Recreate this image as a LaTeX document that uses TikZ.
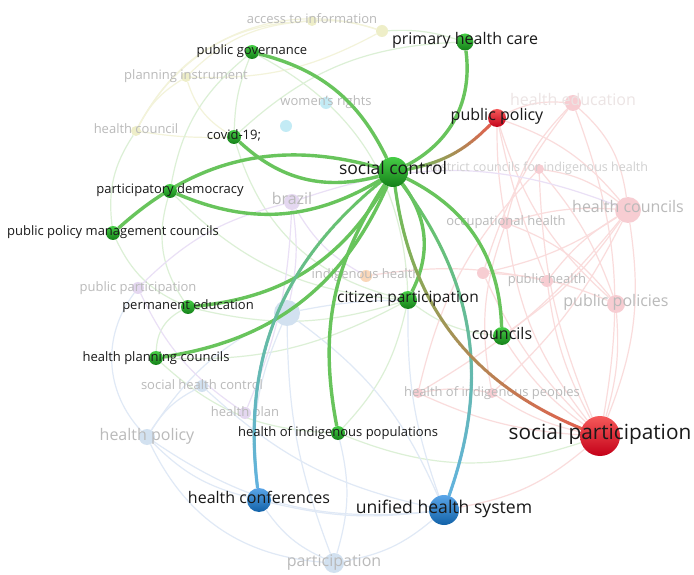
\documentclass[tikz,border=0pt]{standalone}
\usepackage{fontspec}
\setmainfont{Open Sans}
\usetikzlibrary{decorations.markings}
\definecolor{hgreen}{RGB}{104,196,92}
\definecolor{hred}{RGB}{226,96,78}
\definecolor{hblue}{RGB}{98,178,224}
\definecolor{gtop}{RGB}{70,205,70}
\definecolor{gbot}{RGB}{20,128,24}
\definecolor{rtop}{RGB}{245,90,90}
\definecolor{rbot}{RGB}{196,0,24}
\definecolor{btop}{RGB}{90,165,232}
\definecolor{bbot}{RGB}{18,98,168}
\definecolor{fyel}{RGB}{243,243,218}
\definecolor{fgrn}{RGB}{220,240,214}
\definecolor{fpink}{RGB}{250,220,220}
\definecolor{fblue}{RGB}{224,233,246}
\definecolor{fpur}{RGB}{234,224,246}
\definecolor{nyel}{RGB}{238,238,200}
\definecolor{npink}{RGB}{247,205,210}
\definecolor{nblue}{RGB}{210,225,240}
\definecolor{npur}{RGB}{228,215,240}
\definecolor{ncyan}{RGB}{195,235,245}
\definecolor{norg}{RGB}{250,215,185}
\definecolor{fgray}{RGB}{186,186,186}
\definecolor{lgray}{RGB}{208,208,208}
\definecolor{vlgray}{RGB}{236,228,228}
\definecolor{dtext}{RGB}{25,25,25}
\newcommand\fsz[1]{\fontsize{#1}{#1}\selectfont}
\pgfdeclarelayer{bg}
\pgfdeclarelayer{fadeedge}
\pgfdeclarelayer{fadenode}
\pgfdeclarelayer{hiedge}
\pgfsetlayers{bg,fadeedge,fadenode,hiedge,main}
\tikzset{
  x=1pt, y=1pt,
  fn/.style={circle, inner sep=0pt, draw=none},
  gn/.style={circle, inner sep=0pt, draw=none, top color=gtop, bottom color=gbot},
  rn/.style={circle, inner sep=0pt, draw=none, top color=rtop, bottom color=rbot},
  bn/.style={circle, inner sep=0pt, draw=none, top color=btop, bottom color=bbot},
  lbl/.style={inner sep=0pt, text height=0.8em, text depth=0.2em, anchor=center, text=dtext},
  flbl/.style={inner sep=0pt, text height=0.8em, text depth=0.2em, anchor=center, text=fgray},
  hedge/.style={draw=hgreen, line width=3.4pt},
  fe/.style={line width=1.2pt},
  grad/.style 2 args={postaction={decorate}, decoration={markings,
    mark=between positions 0 and 1 step 0.7pt with {
      \pgfmathsetmacro\gp{round(\pgfkeysvalueof{/pgf/decoration/mark info/distance from start}/\pgfdecoratedpathlength*100)}
      \fill[#2!\gp!#1] (0,0) circle (1.7pt);
    }}}
}
\begin{document}
\begin{tikzpicture}
\begin{pgfonlayer}{bg}
\fill[white] (0,0) rectangle (694,574);
\end{pgfonlayer}
\useasboundingbox (0,0) rectangle (694,574);

% ---------- faded nodes ----------
\begin{pgfonlayer}{fadenode}
\node[fn, fill=nyel, minimum size=10pt] (acc) at (312,553) {};
\node[fn, fill=nyel, minimum size=12pt] (yel2) at (382,543) {};
\node[fn, fill=nyel, minimum size=10pt] (plan) at (186,497) {};
\node[fn, fill=ncyan, minimum size=12pt] (wom) at (326,471) {};
\node[fn, fill=ncyan, minimum size=12pt] (cyan2) at (286,448) {};
\node[fn, fill=nyel, minimum size=10pt] (hcou1) at (136,443) {};
\node[fn, fill=npink, minimum size=16pt] (hedu) at (573,471) {};
\node[fn, fill=npink, minimum size=10pt] (dcih) at (539,405) {};
\node[fn, fill=npink, minimum size=26pt] (hcs) at (628,364) {};
\node[fn, fill=npink, minimum size=12pt] (occ) at (506,351) {};
\node[fn, fill=npink, minimum size=12pt] (pink2) at (483,301) {};
\node[fn, fill=npink, minimum size=12pt] (ph) at (547,293) {};
\node[fn, fill=npink, minimum size=18pt] (pps) at (616,270) {};
\node[fn, fill=npur, minimum size=16pt] (bra) at (292,372) {};
\node[fn, fill=norg, minimum size=12pt] (ih) at (366,298) {};
\node[fn, fill=nblue, minimum size=26pt] (lb) at (287,261) {};
\node[fn, fill=npur, minimum size=12pt] (ppart) at (138,286) {};
\node[fn, fill=nblue, minimum size=12pt] (shc) at (202,188) {};
\node[fn, fill=npur, minimum size=12pt] (hplan) at (245,161) {};
\node[fn, fill=nblue, minimum size=16pt] (hpol) at (147,137) {};
\node[fn, fill=npink, minimum size=10pt] (hoip1) at (418,181) {};
\node[fn, fill=npink, minimum size=10pt] (hoip) at (492,181) {};
\node[fn, fill=nblue, minimum size=20pt] (part) at (334,11) {};

\node[flbl, font=\fsz{13}] (acc-t) at (acc) {access to information};
\node[flbl, font=\fsz{13}] (plan-t) at (plan) {planning instrument};
\node[flbl, font=\fsz{13}] (wom-t) at (wom) {women’s rights};
\node[flbl, font=\fsz{13}] (hcou1-t) at (hcou1) {health council};
\node[flbl, font=\fsz{16}, text=vlgray] (hedu-t) at (hedu) {health education};
\node[flbl, font=\fsz{12.5}, text=lgray] (dcih-t) at (dcih) {district councils for indigenous health};
\node[flbl, font=\fsz{16}] (hcs-t) at (hcs) {health councils};
\node[flbl, font=\fsz{13}] (occ-t) at (occ) {occupational health};
\node[flbl, font=\fsz{13}] (ph-t) at (ph) {public health};
\node[flbl, font=\fsz{16}] (pps-t) at (pps) {public policies};
\node[flbl, font=\fsz{16}] (bra-t) at (bra) {brazil};
\node[flbl, font=\fsz{13}] (ih-t) at (ih) {indigenous health};
\node[flbl, font=\fsz{13}] (ppart-t) at (ppart) {public participation};
\node[flbl, font=\fsz{13}] (shc-t) at (shc) {social health control};
\node[flbl, font=\fsz{13}] (hplan-t) at (hplan) {health plan};
\node[flbl, font=\fsz{16}] (hpol-t) at (hpol) {health policy};
\node[flbl, font=\fsz{13}] (hoip-t) at (hoip) {health of indigenous peoples};
\node[flbl, font=\fsz{16}] (part-t) at (part) {participation};
\end{pgfonlayer}

% ---------- highlighted nodes ----------
\node[gn, minimum size=30pt] (sc) at (393,402) {};
\node[gn, minimum size=17pt] (phc) at (465,532) {};
\node[gn, minimum size=14pt] (pg) at (252,522) {};
\node[gn, minimum size=14pt] (cov) at (234,437) {};
\node[gn, minimum size=14pt] (pd) at (170,383) {};
\node[gn, minimum size=14pt] (ppmc) at (113,341) {};
\node[gn, minimum size=14pt] (pe) at (188,267) {};
\node[gn, minimum size=14pt] (hpc) at (156,216) {};
\node[gn, minimum size=14pt] (hip) at (338,141) {};
\node[gn, minimum size=18pt] (cp) at (408,274) {};
\node[gn, minimum size=18pt] (cou) at (502,238) {};
\node[rn, minimum size=18pt] (ppol) at (497,456) {};
\node[rn, minimum size=40pt] (spart) at (600,138) {};
\node[bn, minimum size=24pt] (hc) at (259,74) {};
\node[bn, minimum size=30pt] (uhs) at (444,64) {};

\node[lbl, font=\fsz{17.5}] (sc-t) at (sc) {social control};
\node[lbl, font=\fsz{16}] (phc-t) at (phc) {primary health care};
\node[lbl, font=\fsz{13}] (pg-t) at (pg) {public governance};
\node[lbl, font=\fsz{13}] (cov-t) at (cov) {covid-19;};
\node[lbl, font=\fsz{13}] (pd-t) at (pd) {participatory democracy};
\node[lbl, font=\fsz{13}] (ppmc-t) at (ppmc) {public policy management councils};
\node[lbl, font=\fsz{13}] (pe-t) at (pe) {permanent education};
\node[lbl, font=\fsz{13}] (hpc-t) at (hpc) {health planning councils};
\node[lbl, font=\fsz{13}] (hip-t) at (hip) {health of indigenous populations};
\node[lbl, font=\fsz{15.5}] (cp-t) at (cp) {citizen participation};
\node[lbl, font=\fsz{16}] (cou-t) at (cou) {councils};
\node[lbl, font=\fsz{16}] (ppol-t) at (ppol) {public policy};
\node[lbl, font=\fsz{20.8}] (spart-t) at (spart) {social participation};
\node[lbl, font=\fsz{16}] (hc-t) at (hc) {health conferences};
\node[lbl, font=\fsz{17.6}] (uhs-t) at (uhs) {unified health system};

% ---------- faded edges ----------
\begin{pgfonlayer}{fadeedge}
\begin{scope}[fe, draw=fyel]
\draw (hcou1) to[bend left=40] (yel2);
\draw (hcou1) to[bend left=30] (acc);
\draw (plan) to[bend right=15] (yel2);
\draw (acc) to[bend left=10] (yel2);
\draw (plan) to[bend left=20] (acc);
\draw (hcou1) to[bend right=5] (cov);
\draw (hcou1) to[bend left=15] (plan);
\draw (plan) to[bend right=20] (cov);
\end{scope}
\begin{scope}[fe, draw=fgrn]
\draw (pg) to[bend right=10] (cov);
\draw (pg) to[bend right=20] (pd);
\draw (yel2) to[bend left=10] (phc);
\draw (cov) to[bend left=20] (phc);
\draw (pd) to[bend right=25] (pe);
\draw (ppmc) to[bend right=20] (pe);
\draw (ppmc) to[bend left=20] (hcou1);
\draw (pe) to[bend right=30] (hpc);
\draw (pe) to[bend right=15] (cp);
\draw (hpc) to[bend right=15] (cp);
\draw (hip) to[bend right=15] (cp);
\draw (cp) to[bend right=15] (cou);
\draw (hip) to[bend left=20] (hpc);
\draw (pd) to[bend right=20] (cp);
\draw (hip) to[bend right=20] (spart);
\draw (cov) to[bend right=30] (cp);
\draw (pg) to[bend left=30] (cp);
\end{scope}
\begin{scope}[fe, draw=fpink]
\draw (hedu) to[bend left=15] (spart);
\draw (hedu) to[bend left=20] (hcs);
\draw (hedu) to[bend right=15] (ppol);
\draw (hedu) to[bend right=15] (occ);
\draw (hedu) to[bend right=10] (pink2);
\draw (dcih) to[bend left=15] (hcs);
\draw (dcih) to[bend right=10] (spart);
\draw (dcih) to[bend left=10] (pps);
\draw (dcih) to[bend right=15] (hoip1);
\draw (hcs) to[bend left=15] (spart);
\draw (hcs) to[bend right=10] (ph);
\draw (hcs) to[bend right=10] (occ);
\draw (hcs) to[bend left=10] (pink2);
\draw (hcs) to[bend left=10] (hoip1);
\draw (hcs) to[bend right=15] (ppol);
\draw (hcs) to[bend left=10] (cou);
\draw (hcs) to[bend left=10] (hoip);
\draw (occ) to[bend right=15] (spart);
\draw (occ) to[bend left=15] (pps);
\draw (occ) to[bend right=15] (hoip);
\draw (ph) to[bend right=10] (spart);
\draw (pps) to[bend left=10] (spart);
\draw (pps) to[bend left=15] (ppol);
\draw (pink2) to[bend right=10] (spart);
\draw (pink2) to[bend left=10] (pps);
\draw (hoip) to[bend right=10] (spart);
\draw (hoip1) to[bend right=10] (spart);
\draw (hoip1) to[bend left=10] (hoip);
\draw (ppol) to[bend right=5] (occ);
\draw (ppol) to[bend right=5] (ph);
\draw (cou) to[bend right=10] (spart);
\draw (ih) to[bend left=10] (ph);
\draw (spart) to[bend left=15] (uhs);
\end{scope}
\begin{scope}[fe, draw=fblue]
\draw (hpol) to[bend right=20] (uhs);
\draw (hpol) to[bend right=15] (hc);
\draw (hpol) to[bend right=30] (part);
\draw (hc) to[bend right=15] (part);
\draw (part) to[bend right=15] (uhs);
\draw (hc) to[bend right=10] (uhs);
\draw (shc) to[bend right=15] (uhs);
\draw (shc) to[bend right=15] (hpol);
\draw (lb) to[bend left=15] (uhs);
\draw (lb) to[bend right=15] (hc);
\draw (lb) to[bend left=5] (cp);
\draw (lb) to[bend right=15] (hpol);
\draw (part) to[bend right=15] (hip);
\draw (lb) to[bend right=10] (part);
\draw (uhs) to[bend left=10] (cp);
\draw (hpol) to[bend left=40] (ppart);
\end{scope}
\begin{scope}[fe, draw=fpur]
\draw (bra) to[bend right=15] (ppart);
\draw (bra) to[bend left=10] (hplan);
\draw (bra) to[bend left=20] (hcs);
\draw (ppart) to[bend right=15] (hplan);
\draw (bra) to[bend left=10] (lb);
\draw (bra) to[bend right=15] (ih);
\end{scope}
\end{pgfonlayer}

% ---------- highlighted edges ----------
\begin{pgfonlayer}{hiedge}
\draw[hedge] (sc) to[bend right=25] (pg);
\draw[hedge] (sc) to[bend right=35] (phc);
\path[grad={hgreen}{hred}] (sc) to[bend right=17] (ppol);
\draw[hedge] (sc) to[bend left=29] (cov);
\draw[hedge] (sc) to[bend right=29] (ppmc);
\draw[hedge] (sc) to[bend left=27] (pd);
\draw[hedge] (sc) to[bend left=27] (pe);
\draw[hedge] (sc) to[bend left=29] (hpc);
\draw[hedge] (sc) to[bend right=22] (hip);
\path[grad={hgreen}{hblue}] (sc) to[bend right=29] (hc);
\draw[hedge] (sc) to[bend left=32] (cp);
\draw[hedge] (sc) to[bend left=31] (cou);
\path[grad={hgreen}{hblue}] (sc) to[bend left=28] (uhs);
\path[grad={hgreen}{hred}] (sc) to[bend right=30] (spart);
\end{pgfonlayer}
\end{tikzpicture}
\end{document}
